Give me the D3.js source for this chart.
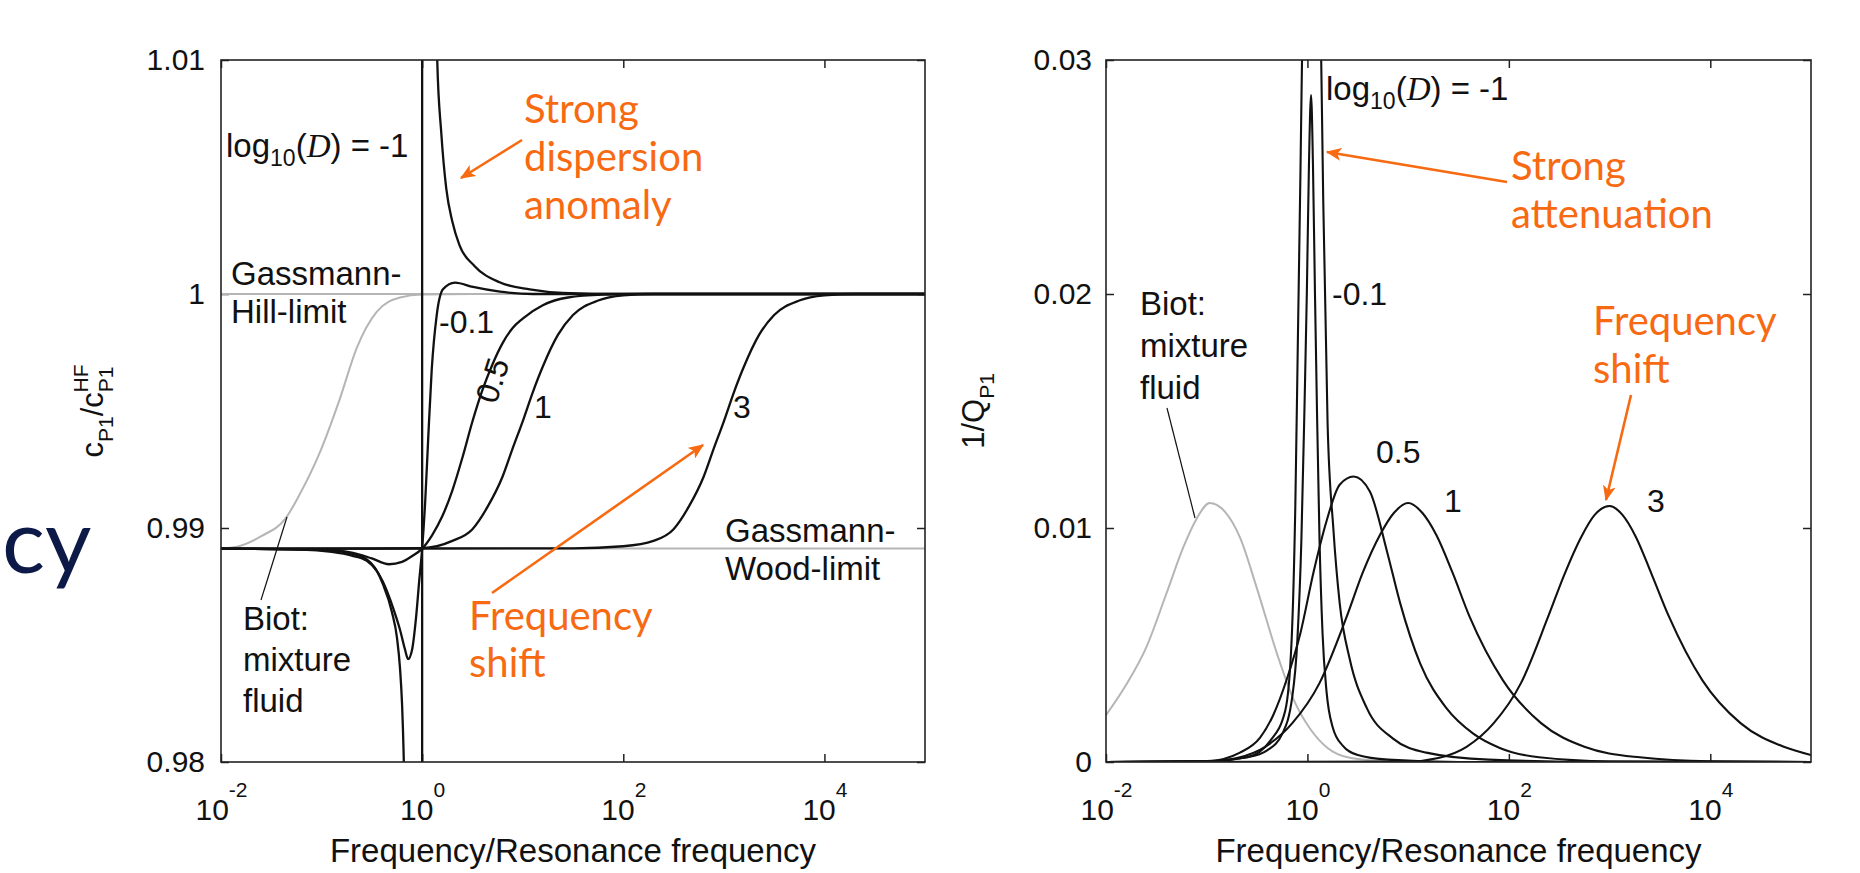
<!DOCTYPE html>
<html>
<head>
<meta charset="utf-8">
<script src="https://cdn.jsdelivr.net/npm/d3@7/dist/d3.min.js"></script>
<style>
  body { margin: 0; background: #fff; }
  svg { display: block; }
  text { font-family: "Liberation Sans", Arial, sans-serif; }
</style>
</head>
<body>
<div id="chart"></div>
<script>
// ---- data: [log10(frequency / resonance frequency), value] ----

// left panel: normalised phase velocity c_P1 / c_P1^HF
const gassmannWood = 0.98912;
const gassmannHill = 1.0;

const biotVel = [[-2, 0.98912], [-1.84, 0.9892], [-1.6, 0.98965], [-1.36, 0.9904], [-1.21, 0.9915],
  [-1.02, 0.9932], [-0.82, 0.9955], [-0.65, 0.9977], [-0.45, 0.99925], [-0.22, 0.99985],
  [0, 0.99998], [0.5, 1.0], [5, 1.0]];

const velM1Left = [[-2, 0.98912], [-1.2, 0.98908], [-0.9, 0.98898], [-0.7, 0.98882], [-0.55, 0.9886],
  [-0.45, 0.98815], [-0.39, 0.9876], [-0.3, 0.9864], [-0.25, 0.9853], [-0.22, 0.984],
  [-0.2, 0.9825], [-0.185, 0.9805], [-0.178, 0.979], [-0.172, 0.976]];
const velM1Jump = [[0, 0.975], [0, 1.015]];
const velM1Right = [[0.14, 1.014], [0.15, 1.01], [0.19, 1.0069], [0.24, 1.0045], [0.3, 1.0031],
  [0.37, 1.0021], [0.52, 1.0012], [0.77, 1.0005], [1.07, 1.0002], [1.4, 1.00005], [2, 1.0], [5, 1.0]];

const velM01 = [[-2, 0.98912], [-1.0, 0.98906], [-0.75, 0.98895], [-0.55, 0.98866], [-0.39, 0.9877],
  [-0.29, 0.9866], [-0.22, 0.98565], [-0.17, 0.9848], [-0.14, 0.9844], [-0.1, 0.9848],
  [-0.06, 0.9862], [-0.03, 0.9877], [0, 0.98912], [0.03, 0.9911], [0.06, 0.9938],
  [0.095, 0.99675], [0.145, 0.9991], [0.207, 1.0002], [0.327, 1.00049], [0.506, 1.0003],
  [0.774, 1.0001], [1.1, 1.0], [5, 1.0]];

const vel05 = [[-2, 0.98912], [-1.0, 0.98908], [-0.7, 0.98895], [-0.5, 0.9887], [-0.33, 0.98845],
  [-0.2, 0.98855], [-0.1, 0.9888], [0, 0.98912], [0.1, 0.9897], [0.2, 0.9905], [0.3, 0.9916],
  [0.4, 0.993], [0.5, 0.99455], [0.6, 0.9959], [0.7, 0.997], [0.8, 0.9979], [0.9, 0.99855],
  [1.0, 0.99895], [1.2, 0.99952], [1.45, 0.99985], [1.8, 0.99997], [2.2, 1.0], [5, 1.0]];

const vel1 = [[-2, 0.98912], [-0.5, 0.98912], [0, 0.98914], [0.3, 0.98945], [0.5, 0.98995],
  [0.65, 0.9909], [0.8, 0.9922], [0.9, 0.9934], [1.0, 0.99456], [1.1, 0.9958], [1.2, 0.9969],
  [1.35, 0.99825], [1.5, 0.9991], [1.75, 0.99972], [2.0, 0.99994], [2.3, 1.0], [5, 1.0]];

const vel3 = [[-2, 0.98912], [1.5, 0.98913], [2.0, 0.98922], [2.3, 0.98945], [2.5, 0.98995],
  [2.65, 0.9909], [2.8, 0.9922], [2.9, 0.9934], [3.0, 0.99456], [3.1, 0.9958], [3.2, 0.9969],
  [3.35, 0.99825], [3.5, 0.9991], [3.75, 0.99972], [4.0, 0.99994], [4.3, 1.0], [5, 1.0]];

// right panel: attenuation 1/Q_P1
const biotAtt = [[-2, 0.002], [-1.8, 0.0033], [-1.6, 0.0049], [-1.4, 0.0072], [-1.23, 0.0092],
  [-1.1, 0.0104], [-0.97, 0.01107], [-0.82, 0.0107], [-0.67, 0.0096], [-0.5, 0.0074],
  [-0.3, 0.0046], [-0.14, 0.0027], [0.03, 0.0014], [0.2, 0.0006], [0.4, 0.0002],
  [0.7, 0.00005], [1.0, 0], [1.5, 0]];

const attM1 = [[-2, 0], [-1.0, 0.00004], [-0.6, 0.0002], [-0.37, 0.0009], [-0.22, 0.0022],
  [-0.157, 0.0052], [-0.12, 0.011], [-0.095, 0.018], [-0.07, 0.025], [-0.04, 0.034], [0, 0.04],
  [0.045, 0.042], [0.09, 0.04], [0.13, 0.032], [0.157, 0.024], [0.2, 0.0145], [0.257, 0.01],
  [0.32, 0.0068], [0.42, 0.0044], [0.59, 0.0023], [0.85, 0.001], [1.18, 0.0004], [1.8, 0.0001],
  [3, 0], [5, 0]];

const attM01 = [[-2, 0], [-1.0, 0.00003], [-0.6, 0.0002], [-0.4, 0.0005], [-0.25, 0.0012],
  [-0.15, 0.0028], [-0.1, 0.0052], [-0.06, 0.0095], [-0.03, 0.015], [-0.006, 0.02],
  [0.015, 0.0255], [0.036, 0.0285], [0.055, 0.0255], [0.075, 0.02], [0.095, 0.015],
  [0.12, 0.0095], [0.15, 0.0055], [0.19, 0.003], [0.25, 0.0015], [0.35, 0.0007], [0.5, 0.0003],
  [0.8, 0.0001], [1.5, 0], [5, 0]];

const att05 = [[-2, 0], [-1.0, 0.00003], [-0.67, 0.0004], [-0.47, 0.00104], [-0.34, 0.002],
  [-0.2, 0.0036], [-0.07, 0.0055], [0.06, 0.0081], [0.19, 0.0103], [0.32, 0.01185], [0.46, 0.0122],
  [0.62, 0.01156], [0.79, 0.009], [0.92, 0.0068], [1.12, 0.0042], [1.38, 0.0023], [1.65, 0.0012],
  [1.91, 0.0006], [2.3, 0.0002], [3.0, 0.00003], [5, 0]];

const att1 = [[-2, 0], [-1.0, 0.00002], [-0.7, 0.00017], [-0.42, 0.00065], [-0.15, 0.00166],
  [0.12, 0.00337], [0.39, 0.00621], [0.55, 0.0081], [0.72, 0.0097], [0.86, 0.01065], [1.0, 0.01107],
  [1.14, 0.01065], [1.28, 0.0097], [1.44, 0.0081], [1.61, 0.00621], [1.94, 0.0035], [2.32, 0.00166],
  [2.75, 0.00065], [3.3, 0.0002], [4, 0.00003], [5, 0]];

const att3 = [[-2, 0], [1.0, 0.00002], [1.3, 0.00017], [1.58, 0.00065], [1.85, 0.00166],
  [2.12, 0.00337], [2.39, 0.00621], [2.55, 0.008], [2.72, 0.00963], [2.85, 0.01055], [3.0, 0.01094],
  [3.13, 0.01055], [3.26, 0.00963], [3.42, 0.008], [3.59, 0.00621], [3.92, 0.0035], [4.3, 0.00166],
  [4.73, 0.00065], [5.0, 0.0003]];

// axis ticks
const freqTicks = [1e-2, 1, 1e2, 1e4];
const velTicks = [0.98, 0.99, 1, 1.01];
const attTicks = [0, 0.01, 0.02, 0.03];

// ---- drawing ----
const W = 1860, H = 873;
const orange = "#f76a12";
const ink = "#111";
const grey = "#b5b5b5";

const svg = d3.select("#chart").append("svg").attr("width", W).attr("height", H);

const defs = svg.append("defs");
defs.append("marker")
  .attr("id", "arrow").attr("viewBox", "0 0 12 10").attr("refX", 11).attr("refY", 5)
  .attr("markerWidth", 6).attr("markerHeight", 5).attr("markerUnits", "strokeWidth")
  .attr("orient", "auto")
  .append("path").attr("d", "M0,0 L12,5 L0,10 L3,5 z").attr("fill", orange);

// slide fragment on the left
svg.append("text").attr("x", 2).attr("y", 573)
  .style("font-family", "Lato, 'Open Sans', sans-serif").attr("font-size", 90)
  .attr("fill", "#0d1a48").text("cy");

function panel(id, x0, x1, yDomain, yTicks, yFmt, tickPad) {
  const x = d3.scaleLog().domain([1e-2, 1e5]).range([x0, x1]);
  const y = d3.scaleLinear().domain(yDomain).range([762, 60]);
  const g = svg.append("g");

  defs.append("clipPath").attr("id", id).append("rect")
    .attr("x", x0).attr("y", 60).attr("width", x1 - x0).attr("height", 702);

  // bottom axis with 10^n labels
  const bx = g.append("g").attr("transform", "translate(0,762)")
    .call(d3.axisBottom(x).tickValues(freqTicks).tickSizeInner(-8).tickSizeOuter(0));
  bx.select(".domain").remove();
  bx.selectAll(".tick text").each(function (d) {
    const t = d3.select(this);
    t.text(null).attr("y", 58).attr("dy", null).attr("fill", ink);
    t.append("tspan").text("10");
    t.append("tspan").attr("dy", -23).attr("font-size", 21).text(Math.round(Math.log10(d)));
  });
  bx.attr("font-size", 30).attr("font-family", null);

  const tx = g.append("g").attr("transform", "translate(0,60)")
    .call(d3.axisTop(x).tickValues(freqTicks).tickSizeInner(-8).tickSizeOuter(0).tickFormat(""));
  tx.select(".domain").remove();

  const ly = g.append("g").attr("transform", `translate(${x0},0)`)
    .call(d3.axisLeft(y).tickValues(yTicks).tickSizeInner(-8).tickSizeOuter(0)
      .tickPadding(tickPad).tickFormat(yFmt));
  ly.select(".domain").remove();
  ly.attr("font-size", 30).attr("font-family", null);
  ly.selectAll("text").attr("fill", ink);

  const ry = g.append("g").attr("transform", `translate(${x1},0)`)
    .call(d3.axisRight(y).tickValues(yTicks).tickSizeInner(-8).tickSizeOuter(0).tickFormat(""));
  ry.select(".domain").remove();
  g.selectAll(".tick line").attr("stroke", "#222").attr("stroke-width", 1.5);

  const plot = g.append("g").attr("clip-path", `url(#${id})`);

  g.append("rect").attr("x", x0).attr("y", 60).attr("width", x1 - x0).attr("height", 702)
    .attr("fill", "none").attr("stroke", "#222").attr("stroke-width", 1.6);

  // axis title
  g.append("text").attr("x", (x0 + x1) / 2).attr("y", 862).attr("text-anchor", "middle")
    .attr("font-size", 33).attr("fill", ink).text("Frequency/Resonance frequency");

  const smooth = d3.line().x(d => x(10 ** d[0])).y(d => y(d[1])).curve(d3.curveMonotoneX);
  const straight = d3.line().x(d => x(10 ** d[0])).y(d => y(d[1]));

  function curve(data, colour, width, lin) {
    plot.append("path").datum(data).attr("d", lin ? straight : smooth)
      .attr("fill", "none").attr("stroke", colour).attr("stroke-width", width)
      .attr("stroke-linejoin", "round");
  }
  return { x, y, g, curve };
}

function label(parent, x, y, lines, opts = {}) {
  lines.forEach((s, i) => {
    parent.append("text").attr("x", x).attr("y", y + i * (opts.lh || 41))
      .attr("font-size", opts.size || 33).attr("fill", opts.fill || ink)
      .style("font-family", opts.font || null).text(s);
  });
}

function arrow(x1, y1, x2, y2) {
  svg.append("line").attr("x1", x1).attr("y1", y1).attr("x2", x2).attr("y2", y2)
    .attr("stroke", orange).attr("stroke-width", 2.6).attr("marker-end", "url(#arrow)");
}

function pointer(x1, y1, x2, y2) {
  svg.append("line").attr("x1", x1).attr("y1", y1).attr("x2", x2).attr("y2", y2)
    .attr("stroke", ink).attr("stroke-width", 1.2);
}

function logD(x, y) {
  const t = svg.append("text").attr("x", x).attr("y", y).attr("font-size", 33).attr("fill", ink);
  t.append("tspan").text("log");
  t.append("tspan").attr("dy", 9).attr("font-size", 23).text("10");
  t.append("tspan").attr("dy", -9).text("(");
  t.append("tspan").style("font-family", "'Liberation Serif', 'DejaVu Serif', serif")
    .style("font-style", "italic").text("D");
  t.append("tspan").text(") = -1");
}

// ---------- left panel ----------
const L = panel("clipL", 221, 925, [0.98, 1.01], velTicks, d => (d === 1 ? "1" : d.toFixed(2)), 16);
L.curve([[-2, gassmannHill], [5, gassmannHill]], grey, 2, true);
L.curve([[-2, gassmannWood], [5, gassmannWood]], grey, 2, true);
L.curve(biotVel, grey, 2);
[vel3, vel1, vel05, velM01, velM1Left, velM1Right].forEach(d => L.curve(d, ink, 2.3));
L.curve(velM1Jump, ink, 2.3, true);

// left y title
const yl = svg.append("text").attr("transform", "translate(103,411) rotate(-90)")
  .attr("text-anchor", "middle").attr("font-size", 31).attr("fill", ink);
yl.append("tspan").text("c");
yl.append("tspan").attr("dy", 10).attr("font-size", 21).text("P1");
yl.append("tspan").attr("dy", -10).text("/c");
yl.append("tspan").attr("dy", 10).attr("font-size", 21).text("P1");
yl.append("tspan").attr("dy", -25).attr("dx", -26).attr("font-size", 21).text("HF");

logD(226, 157);
label(svg, 231, 285, ["Gassmann-", "Hill-limit"], { lh: 38 });
label(svg, 725, 542, ["Gassmann-", "Wood-limit"], { lh: 38 });
label(svg, 243, 630, ["Biot:", "mixture", "fluid"]);
pointer(261, 600, 287, 517);
label(svg, 439, 333, ["-0.1"], { size: 32 });
svg.append("text").attr("transform", "translate(496,405) rotate(-72)").attr("font-size", 32)
  .attr("fill", ink).text("0.5");
label(svg, 534, 418, ["1"], { size: 32 });
label(svg, 733, 418, ["3"], { size: 32 });

const calibri = "Lato, 'Open Sans', sans-serif";
label(svg, 524, 123, ["Strong", "dispersion", "anomaly"], { size: 40, lh: 48, fill: orange, font: calibri });
arrow(522, 140, 461, 178);
label(svg, 469, 630, ["Frequency", "shift"], { size: 40, lh: 47, fill: orange, font: calibri });
arrow(492, 593, 703, 445);

// ---------- right panel ----------
const R = panel("clipR", 1106, 1811, [0, 0.03], attTicks, d => (d === 0 ? "0" : d.toFixed(2)), 14);
R.curve(biotAtt, grey, 2);
[att3, att1, att05, attM01, attM1].forEach(d => R.curve(d, ink, 2.1));

const yr = svg.append("text").attr("transform", "translate(984,411) rotate(-90)")
  .attr("text-anchor", "middle").attr("font-size", 31).attr("fill", ink);
yr.append("tspan").text("1/Q");
yr.append("tspan").attr("dy", 10).attr("font-size", 21).text("P1");

logD(1326, 100);
label(svg, 1332, 305, ["-0.1"], { size: 32 });
label(svg, 1376, 463, ["0.5"], { size: 32 });
label(svg, 1444, 512, ["1"], { size: 32 });
label(svg, 1647, 512, ["3"], { size: 32 });
label(svg, 1140, 315, ["Biot:", "mixture", "fluid"], { lh: 42 });
pointer(1167, 408, 1195, 518);

label(svg, 1511, 180, ["Strong", "attenuation"], { size: 40, lh: 48, fill: orange, font: calibri });
arrow(1507, 182, 1327, 152);
label(svg, 1593, 335, ["Frequency", "shift"], { size: 40, lh: 48, fill: orange, font: calibri });
arrow(1631, 395, 1606, 500);
</script>
</body>
</html>
